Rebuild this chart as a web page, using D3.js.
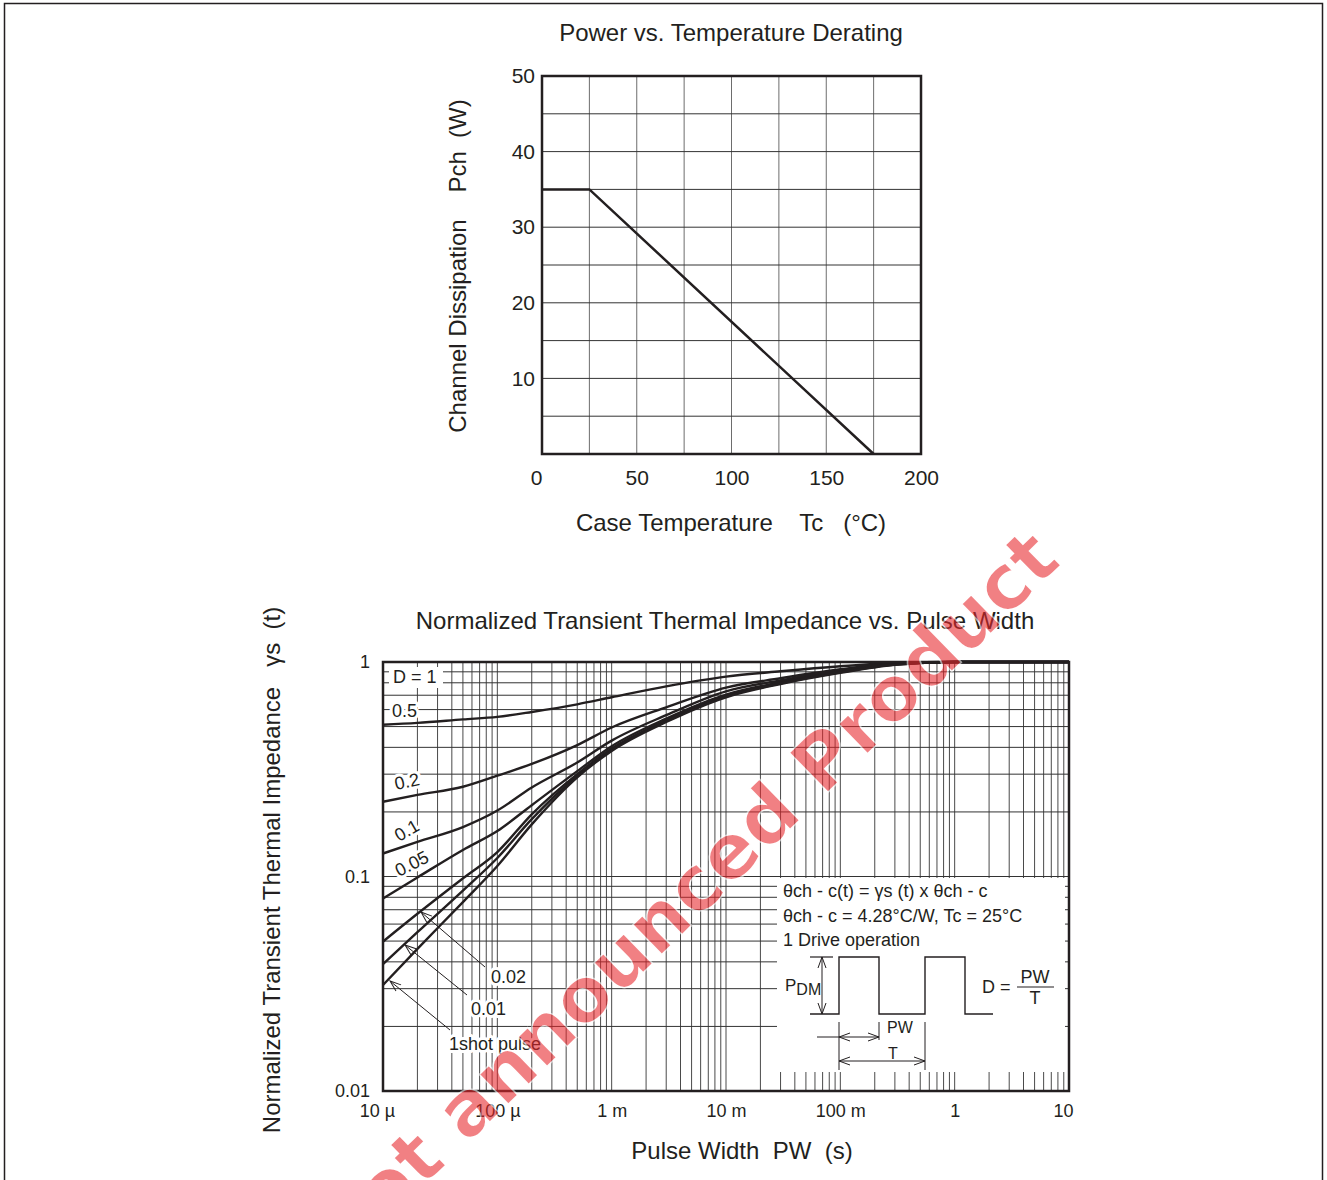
<!DOCTYPE html>
<html>
<head>
<meta charset="utf-8">
<script src="https://cdn.jsdelivr.net/npm/d3@7"></script>
<style>
body { margin: 0; background: #fff; }
text { font-family: "Liberation Sans", Arial, sans-serif; fill: #231f20; white-space: pre; }
</style>
</head>
<body>
<div id="chart"></div>
<script>
// ---- derating chart data
var tempC = [0, 25, 175];
var pchW = [35, 35, 0];
var tempTicks = [0, 50, 100, 150, 200];
var pchTicks = [10, 20, 30, 40, 50];

// ---- transient thermal impedance data
var pulseWidth = [1e-5, 2e-5, 5e-5, 1e-4, 2e-4, 5e-4, 1e-3, 3e-3, 1e-2, 3e-2, 1e-1, 3e-1, 1, 10];
var gsD05   = [0.51, 0.52, 0.54, 0.555, 0.585, 0.635, 0.685, 0.77, 0.855, 0.905, 0.955, 0.99, 1.0, 1.0];
var gsD02   = [0.223, 0.24, 0.262, 0.295, 0.335, 0.41, 0.495, 0.615, 0.76, 0.84, 0.925, 0.985, 1.0, 1.0];
var gsD01   = [0.128, 0.145, 0.17, 0.203, 0.26, 0.34, 0.43, 0.565, 0.73, 0.82, 0.915, 0.98, 1.0, 1.0];
var gsD005  = [0.079, 0.099, 0.133, 0.163, 0.215, 0.31, 0.405, 0.545, 0.705, 0.805, 0.905, 0.978, 1.0, 1.0];
var gsD002  = [0.0497, 0.067, 0.098, 0.13, 0.195, 0.30, 0.395, 0.535, 0.695, 0.80, 0.9, 0.975, 1.0, 1.0];
var gsD001  = [0.039, 0.055, 0.086, 0.122, 0.185, 0.295, 0.39, 0.53, 0.69, 0.795, 0.895, 0.972, 1.0, 1.0];
var gsShot  = [0.0312, 0.046, 0.076, 0.112, 0.175, 0.29, 0.385, 0.525, 0.685, 0.79, 0.89, 0.97, 1.0, 1.0];
var pwTicks = [1e-5, 1e-4, 1e-3, 1e-2, 1e-1, 1, 10];
var pwTickLabels = ["10 \u00b5", "100 \u00b5", "1 m", "10 m", "100 m", "1", "10"];
var gsTicks = [0.01, 0.1, 1];
var gsTickLabels = ["0.01", "0.1", "1"];

var ink = "#231f20";
var svg = d3.select("#chart").append("svg")
    .attr("width", 1327)
    .attr("height", 1180);

// page frame
svg.append("rect")
    .attr("x", 4.5).attr("y", 3.5)
    .attr("width", 1318).attr("height", 1200)
    .attr("fill", "none").attr("stroke", ink).attr("stroke-width", 1.5);

// arrow markers (open V)
var defs = svg.append("defs");
defs.append("marker").attr("id", "arrS")
    .attr("markerUnits", "userSpaceOnUse").attr("markerWidth", 20).attr("markerHeight", 20)
    .attr("viewBox", "-2 -10 20 20").attr("refX", 0).attr("refY", 0).attr("orient", "auto")
  .append("path").attr("d", "M11,-4L0,0L11,4").attr("fill", "none").attr("stroke", ink).attr("stroke-width", 1);
defs.append("marker").attr("id", "arrE")
    .attr("markerUnits", "userSpaceOnUse").attr("markerWidth", 20).attr("markerHeight", 20)
    .attr("viewBox", "-18 -10 20 20").attr("refX", 0).attr("refY", 0).attr("orient", "auto")
  .append("path").attr("d", "M-11,-4L0,0L-11,4").attr("fill", "none").attr("stroke", ink).attr("stroke-width", 1);

function styleAxis(g, size) {
    g.attr("font-family", null).attr("font-size", size);
    g.select(".domain").remove();
}

// ================= top chart =================
var w1 = 379, h1 = 378;
var x1 = d3.scaleLinear().domain([0, 200]).range([0, w1]);
var y1 = d3.scaleLinear().domain([0, 50]).range([h1, 0]);
var g1 = svg.append("g").attr("transform", "translate(542,76)");

g1.selectAll(".vg").data(d3.range(25, 200, 25)).enter().append("line")
    .attr("x1", function(d) { return x1(d); }).attr("x2", function(d) { return x1(d); })
    .attr("y1", 0).attr("y2", h1)
    .attr("stroke", "#6d6d6d").attr("stroke-width", 1);
g1.selectAll(".hg").data(d3.range(5, 50, 5)).enter().append("line")
    .attr("y1", function(d) { return y1(d); }).attr("y2", function(d) { return y1(d); })
    .attr("x1", 0).attr("x2", w1)
    .attr("stroke", "#333").attr("stroke-width", 1);

var line1 = d3.line()
    .x(function(d) { return x1(d[0]); })
    .y(function(d) { return y1(d[1]); });
g1.append("path")
    .attr("d", line1(d3.zip(tempC, pchW)))
    .attr("fill", "none").attr("stroke", ink).attr("stroke-width", 2.5);

g1.append("rect").attr("width", w1).attr("height", h1)
    .attr("fill", "none").attr("stroke", ink).attr("stroke-width", 2.5);

var xa1 = g1.append("g").attr("transform", "translate(0," + h1 + ")")
    .call(d3.axisBottom(x1).tickValues(tempTicks).tickSize(0).tickPadding(16));
styleAxis(xa1, 21);
xa1.selectAll("text").filter(function(d) { return d === 0; }).attr("x", -6);

var ya1 = g1.append("g")
    .call(d3.axisLeft(y1).tickValues(pchTicks).tickSize(0).tickPadding(7));
styleAxis(ya1, 21);

svg.append("text").attr("x", 731).attr("y", 41).attr("text-anchor", "middle")
    .attr("font-size", 24).text("Power vs. Temperature Derating");
svg.append("text").attr("x", 731).attr("y", 531).attr("text-anchor", "middle")
    .attr("font-size", 24).text("Case Temperature    Tc   (\u00b0C)");
svg.append("text").attr("transform", "translate(466,266) rotate(-90)").attr("text-anchor", "middle")
    .attr("font-size", 24).text("Channel Dissipation    Pch  (W)");

// ================= bottom chart =================
var w2 = 686, h2 = 429;
var x2 = d3.scaleLog().domain([1e-5, 10]).range([0, w2]);
var y2 = d3.scaleLog().domain([0.01, 1]).range([h2, 0]);
var g2 = svg.append("g").attr("transform", "translate(383,662)");

// log grid
var vGrid = [], hGrid = [];
pwTicks.slice(0, -1).forEach(function(dec) {
    d3.range(1, 10).forEach(function(k) { vGrid.push(k * dec); });
});
gsTicks.slice(0, -1).forEach(function(dec) {
    d3.range(1, 10).forEach(function(k) { hGrid.push(k * dec); });
});
g2.selectAll(".vg").data(vGrid.slice(1)).enter().append("line")
    .attr("x1", function(d) { return x2(d); }).attr("x2", function(d) { return x2(d); })
    .attr("y1", 0).attr("y2", h2)
    .attr("stroke", "#4a4a4a").attr("stroke-width", 1);
g2.selectAll(".hg").data(hGrid.slice(1)).enter().append("line")
    .attr("y1", function(d) { return y2(d); }).attr("y2", function(d) { return y2(d); })
    .attr("x1", 0).attr("x2", w2)
    .attr("stroke", "#333").attr("stroke-width", 1);

// inset box that hides the grid
var inset = { x: 394, y: 216, w: 288, h: 194 };
g2.append("rect").attr("x", inset.x).attr("y", inset.y)
    .attr("width", inset.w).attr("height", inset.h).attr("fill", "#fff");

// curves
var series = [gsD05, gsD02, gsD01, gsD005, gsD002, gsD001, gsShot];
var line2 = d3.line()
    .x(function(d) { return x2(d[0]); })
    .y(function(d) { return y2(d[1]); })
    .curve(d3.curveMonotoneX);
series.forEach(function(vals) {
    g2.append("path")
        .attr("d", line2(d3.zip(pulseWidth, vals)))
        .attr("fill", "none").attr("stroke", ink).attr("stroke-width", 2.4);
});

g2.append("rect").attr("width", w2).attr("height", h2)
    .attr("fill", "none").attr("stroke", ink).attr("stroke-width", 2.5);

var xa2 = g2.append("g").attr("transform", "translate(0," + h2 + ")")
    .call(d3.axisBottom(x2).tickValues(pwTicks).tickSize(0).tickPadding(13)
        .tickFormat(function(d, i) { return pwTickLabels[i]; }));
styleAxis(xa2, 18);
xa2.selectAll("text").attr("dx", function(d, i) { return i === 0 ? -6 : (i === 6 ? -6 : 0); });

var ya2 = g2.append("g")
    .call(d3.axisLeft(y2).tickValues(gsTicks).tickSize(0).tickPadding(13)
        .tickFormat(function(d, i) { return gsTickLabels[i]; }));
styleAxis(ya2, 18);

// curve labels
var halo = function(sel) {
    sel.attr("stroke", "#fff").attr("stroke-width", 6).attr("paint-order", "stroke").attr("stroke-linejoin", "round");
};
g2.append("rect").attr("x", 6).attr("y", 5).attr("width", 54).attr("height", 21).attr("fill", "#fff");
g2.append("text").attr("x", 10).attr("y", 21).attr("font-size", 18).text("D = 1");
g2.append("text").attr("x", 9).attr("y", 55).attr("font-size", 18).call(halo).text("0.5");
g2.append("text").attr("transform", "translate(13,128) rotate(-12)").attr("font-size", 18).call(halo).text("0.2");
g2.append("text").attr("transform", "translate(16,180) rotate(-30)").attr("font-size", 18).call(halo).text("0.1");
g2.append("text").attr("transform", "translate(16,215) rotate(-27)").attr("font-size", 18).call(halo).text("0.05");

var leaders = [
    { tip: [38, 250], tail: [102, 305], label: "0.02", lx: 108, ly: 321 },
    { tip: [22, 283], tail: [84, 333], label: "0.01", lx: 88, ly: 353 },
    { tip: [7, 319], tail: [67, 368], label: "1shot pulse", lx: 66, ly: 388 }
];
leaders.forEach(function(a) {
    g2.append("line")
        .attr("x1", a.tip[0]).attr("y1", a.tip[1]).attr("x2", a.tail[0]).attr("y2", a.tail[1])
        .attr("stroke", ink).attr("stroke-width", 1).attr("marker-start", "url(#arrS)");
    g2.append("text").attr("x", a.lx).attr("y", a.ly).attr("font-size", 18).call(halo).text(a.label);
});

// inset content
var gi = g2.append("g").attr("transform", "translate(" + inset.x + "," + inset.y + ")");
gi.append("text").attr("x", 6).attr("y", 19).attr("font-size", 18).text("\u03b8ch - c(t) = \u03b3s (t) x \u03b8ch - c");
gi.append("text").attr("x", 6).attr("y", 44).attr("font-size", 18).text("\u03b8ch - c = 4.28\u00b0C/W, Tc = 25\u00b0C");
gi.append("text").attr("x", 6).attr("y", 68).attr("font-size", 18).text("1 Drive operation");

var wave = [[33, 136], [62, 136], [62, 79], [102, 79], [102, 136], [148, 136], [148, 79], [188, 79], [188, 136], [216, 136]];
gi.append("path").attr("d", d3.line()(wave))
    .attr("fill", "none").attr("stroke", ink).attr("stroke-width", 1.4);
gi.append("line").attr("x1", 33).attr("x2", 56).attr("y1", 79).attr("y2", 79).attr("stroke", ink).attr("stroke-width", 1.2);
gi.append("line").attr("x1", 45).attr("x2", 45).attr("y1", 79).attr("y2", 136)
    .attr("stroke", ink).attr("stroke-width", 1).attr("marker-start", "url(#arrS)").attr("marker-end", "url(#arrE)");
gi.append("text").attr("x", 8).attr("y", 113).attr("font-size", 17)
    .text("P").append("tspan").attr("dy", 4).attr("font-size", 16).text("DM");

[[62, 192], [102, 162], [148, 192]].forEach(function(e) {
    gi.append("line").attr("x1", e[0]).attr("x2", e[0]).attr("y1", 144).attr("y2", e[1])
        .attr("stroke", ink).attr("stroke-width", 1);
});
gi.append("line").attr("x1", 40).attr("x2", 62).attr("y1", 159).attr("y2", 159).attr("stroke", ink).attr("stroke-width", 1);
gi.append("line").attr("x1", 62).attr("x2", 102).attr("y1", 159).attr("y2", 159)
    .attr("stroke", ink).attr("stroke-width", 1).attr("marker-start", "url(#arrS)").attr("marker-end", "url(#arrE)");
gi.append("text").attr("x", 110).attr("y", 155).attr("font-size", 16).text("PW");
gi.append("line").attr("x1", 62).attr("x2", 148).attr("y1", 183).attr("y2", 183)
    .attr("stroke", ink).attr("stroke-width", 1).attr("marker-start", "url(#arrS)").attr("marker-end", "url(#arrE)");
gi.append("text").attr("x", 116).attr("y", 181).attr("text-anchor", "middle").attr("font-size", 16).text("T");

gi.append("text").attr("x", 205).attr("y", 115).attr("font-size", 18).text("D = ");
gi.append("line").attr("x1", 240).attr("x2", 277).attr("y1", 109).attr("y2", 109).attr("stroke", ink).attr("stroke-width", 1.2);
gi.append("text").attr("x", 258).attr("y", 105).attr("text-anchor", "middle").attr("font-size", 18).text("PW");
gi.append("text").attr("x", 258).attr("y", 126).attr("text-anchor", "middle").attr("font-size", 18).text("T");

// titles
svg.append("text").attr("x", 725).attr("y", 629).attr("text-anchor", "middle")
    .attr("font-size", 24).text("Normalized Transient Thermal Impedance vs. Pulse Width");
svg.append("text").attr("x", 742).attr("y", 1159).attr("text-anchor", "middle")
    .attr("font-size", 24).text("Pulse Width  PW  (s)");
svg.append("text").attr("transform", "translate(280,870) rotate(-90)").attr("text-anchor", "middle")
    .attr("font-size", 24).text("Normalized Transient Thermal Impedance   \u03b3s  (t)");

// watermark
svg.append("text")
    .attr("transform", "translate(1063,563) rotate(-44.3)")
    .attr("text-anchor", "end")
    .style("font-family", "'DejaVu Sans', sans-serif")
    .attr("font-weight", "bold")
    .attr("font-size", 76)
    .style("fill", "#e8262b")
    .attr("stroke", "#fff").attr("stroke-width", 1.5)
    .attr("opacity", 0.58)
    .text("Not announced Product");
</script>
</body>
</html>
